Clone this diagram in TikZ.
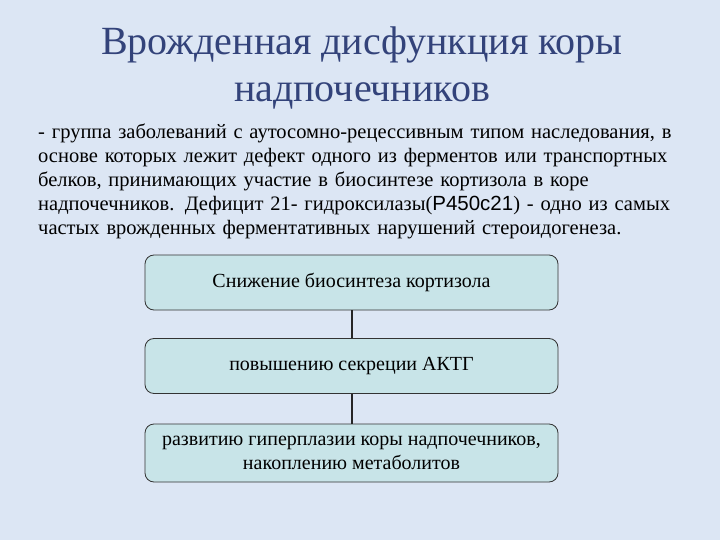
\documentclass[tikz,border=0pt]{standalone}
\usepackage{fontspec}
\setmainfont{Liberation Serif}
\newfontfamily\arialf{Liberation Sans}
\definecolor{bgc}{HTML}{DCE6F4}
\definecolor{boxc}{HTML}{C8E4E8}
\definecolor{titc}{HTML}{33437A}
\begin{document}
\begin{tikzpicture}[x=1pt,y=-1pt,
  stepbox/.style={draw=black!80,fill=boxc,rounded corners=9pt,line width=0.8pt,minimum width=413pt,minimum height=55pt,font=\fontsize{20}{24}\selectfont,align=center,inner sep=2pt},
  conn/.style={line width=2pt,black!85}]
\fill[bgc] (0,0) rectangle (720,540);
\useasboundingbox (0,0) rectangle (720,540);
\node[text=titc,font=\fontsize{40}{47}\selectfont,align=center] (title) at (362,68) {Врожденная дисфункция коры\\надпочечников};
\node[anchor=north west,align=left,text width=690pt,font=\fontsize{20.5}{24}\selectfont,inner sep=0pt] (body) at (38,124) {- группа заболеваний с аутосомно-рецессивным типом наследования, в\\основе которых лежит дефект одного из ферментов или транспортных\\белков, принимающих участие в биосинтезе кортизола в коре\\надпочечников. Дефицит 21- гидроксилазы({\arialf P450c21}) - одно из самых\\частых врожденных ферментативных нарушений стероидогенеза.};
\node[stepbox] (b1) at (351.5,282.5) {Снижение биосинтеза кортизола};
\node[stepbox] (b2) at (351.5,366) {повышению секреции АКТГ};
\node[stepbox,minimum height=58pt] (b3) at (351.5,453) {развитию гиперплазии коры надпочечников,\\накоплению метаболитов};
\draw[conn] (b1.south) -- (b2.north);
\draw[conn] (b2.south) -- (b3.north);
\end{tikzpicture}
\end{document}
